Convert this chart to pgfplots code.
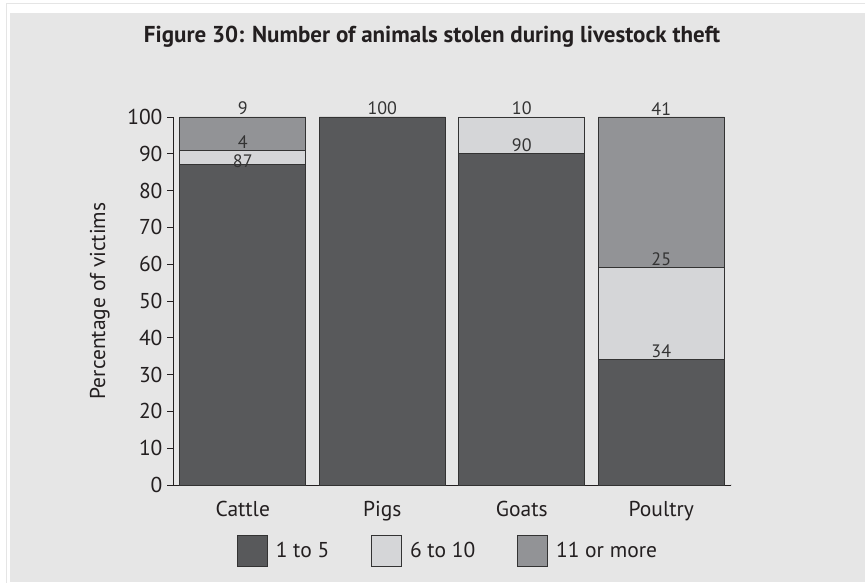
\documentclass[border=0pt]{standalone}
\usepackage{fontspec}
\setmainfont{PT Sans}
\usepackage{pgfplots}
\usepackage{pgfplotstable}
\pgfplotsset{compat=1.18}
\definecolor{bg}{HTML}{E6E6E6}
\definecolor{cdark}{HTML}{58595B}
\definecolor{clight}{HTML}{D5D6D8}
\definecolor{cmid}{HTML}{929396}
\definecolor{txt}{HTML}{231F20}
\definecolor{edge}{HTML}{333333}
\pgfplotstableread{
x a b c oa ob oc
0 87 4 9 -5 0 0
1 100 0 0 0 0 0
2 90 10 0 0 0 0
3 34 25 41 0 0 0
}\thedata
\begin{document}
\begin{tikzpicture}
\useasboundingbox (0,0) rectangle (865pt,582pt);
\fill[white] (0,0) rectangle (865pt,582pt);
\draw[black!10,line width=1pt] (6pt,-2pt) rectangle (870pt,578pt);
\fill[bg] (10pt,0) rectangle (865pt,569pt);
\begin{axis}[
  at={(173pt,97pt)}, anchor=south west,
  scale only axis, width=558pt, height=368pt,
  ybar stacked, bar width=126pt,
  xmin=-0.5, xmax=3.5, ymin=0, ymax=100,
  xtick=data, xticklabels={Cattle,Pigs,Goats,Poultry},
  ytick={0,10,...,100},
  axis x line*=bottom, axis y line*=left,
  axis line style={txt, line width=1pt},
  x tick style={draw=none},
  y tick style={txt, line width=0.8pt},
  tick align=outside, major tick length=6pt,
  tick label style={font=\fontsize{21.5}{24}\selectfont, text=txt},
  /pgf/number format/assume math mode=true,
  xticklabel style={yshift=-7pt},
  yticklabel style={xshift=-1pt},
  ylabel={Percentage of victims},
  ylabel style={font=\fontsize{21.5}{24}\selectfont, text=txt, at={(axis description cs:-0.131,0.5)}, anchor=center},
  title={\textbf{Figure 30: Number of animals stolen during livestock theft}},
  title style={font=\fontsize{23}{27}\selectfont, text=txt, at={(axis description cs:0.5,1)}, anchor=center, yshift=74pt, xshift=-20pt},
  point meta=explicit,
  nodes near coords={\pgfmathfloatifflags{\pgfplotspointmeta}{0}{}{\pgfmathprintnumber[fixed,precision=0]{\pgfplotspointmeta}}},
  every node near coord/.append style={anchor=south, font=\fontsize{18}{20}\selectfont, text=edge, inner sep=0pt, yshift={\rawy*1.84pt+1.5pt+\off pt}},
  legend columns=3,
  legend style={at={(axis description cs:0.5,0)}, anchor=center, yshift=-66pt, xshift=-4pt, draw=none, fill=none, font=\fontsize{21.5}{24}\selectfont, text=txt,
    /tikz/every even column/.append style={column sep=40pt}},
  legend image code/.code={\draw[#1, draw=edge, line width=0.8pt] (0pt,-15.5pt) rectangle (30pt,15.5pt); \path (36pt,0);},
  legend cell align=left,
]
\addplot[fill=cdark, draw=edge, line width=0.8pt, visualization depends on={rawy \as \rawy}, visualization depends on={\thisrow{oa} \as \off}] table[x=x, y=a, meta=a] {\thedata};
\addplot[fill=clight, draw=edge, line width=0.8pt, visualization depends on={rawy \as \rawy}, visualization depends on={\thisrow{ob} \as \off}] table[x=x, y=b, meta=b] {\thedata};
\addplot[fill=cmid, draw=edge, line width=0.8pt, visualization depends on={rawy \as \rawy}, visualization depends on={\thisrow{oc} \as \off}] table[x=x, y=c, meta=c] {\thedata};
\legend{1 to 5, 6 to 10, 11 or more}
\draw[txt, line width=1pt] (rel axis cs:1,0) -- ++(0,7pt);
\end{axis}
\end{tikzpicture}
\end{document}
